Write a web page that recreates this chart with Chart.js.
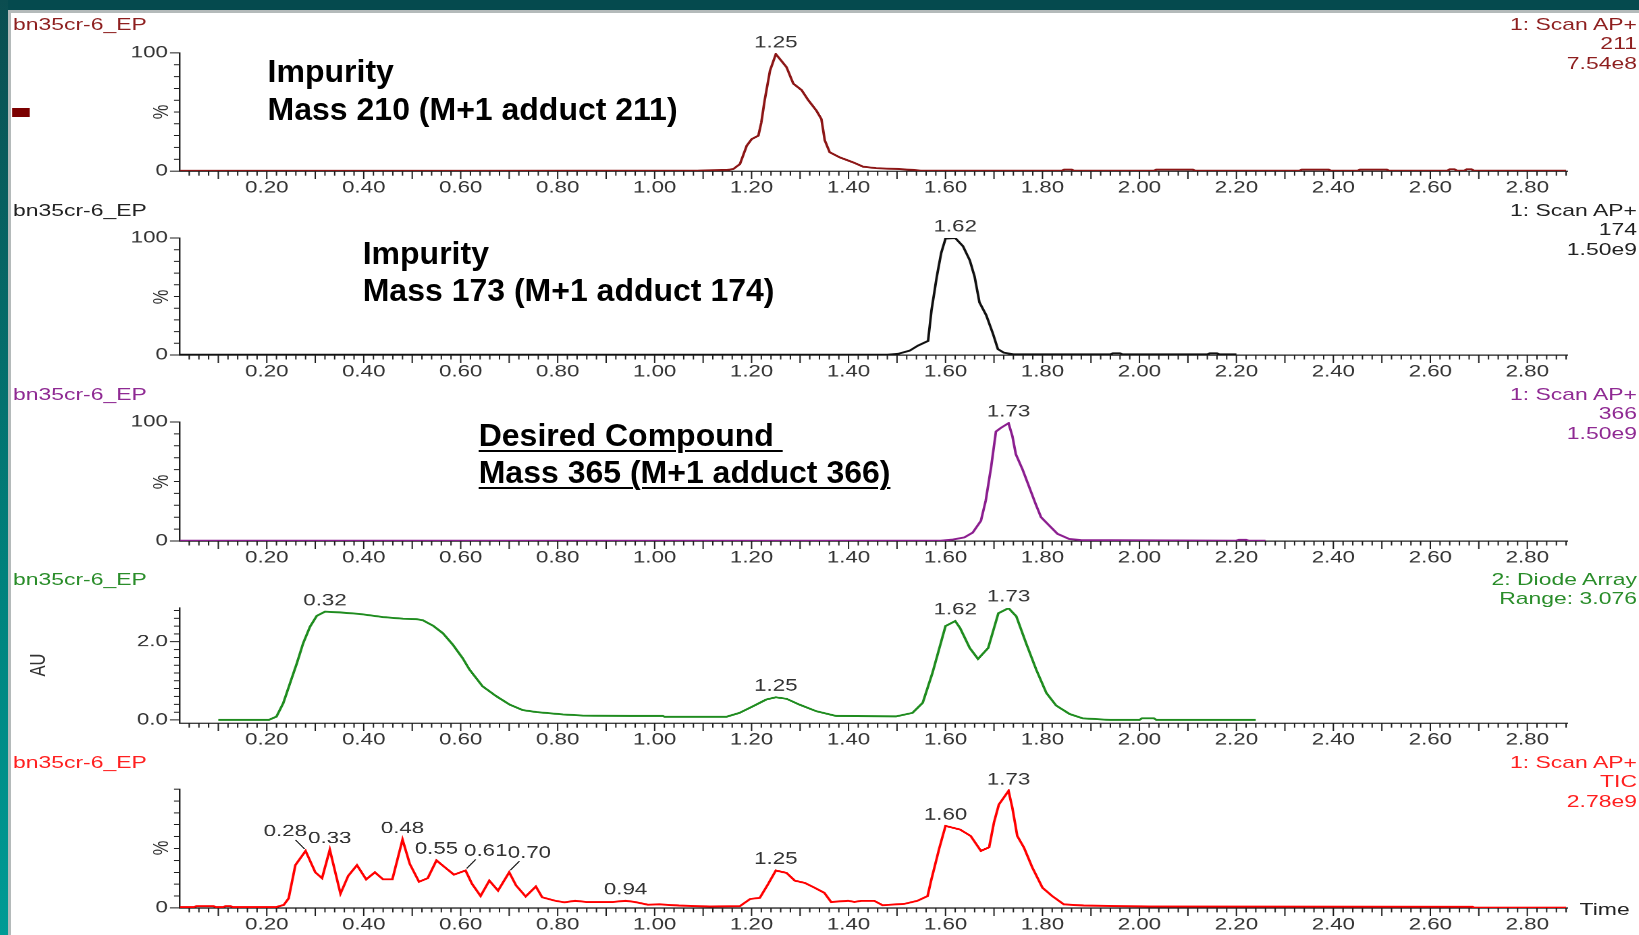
<!DOCTYPE html>
<html>
<head>
<meta charset="utf-8">
<title>bn35cr-6_EP chromatograms</title>
<script src="https://cdn.jsdelivr.net/npm/chart.js@4.4.1/dist/chart.umd.min.js"></script>
<style>
  html, body { margin: 0; padding: 0; background: #fff; }
  body { width: 1639px; height: 935px; position: relative; overflow: hidden; font-family: 'Liberation Sans', Arial, sans-serif; }
  .bar-top { position: absolute; left: 0; top: 0; width: 1639px; height: 10px; background: #054a4e; }
  .rule-top { position: absolute; left: 0; top: 10px; width: 1639px; height: 2.5px; background: #b4baba; }
  .bar-left { position: absolute; left: 0; top: 0; width: 8px; height: 935px; background: linear-gradient(#0b4d50, #00807b 60%, #009b95); }
  .rule-left { position: absolute; left: 8px; top: 10px; width: 2.5px; height: 925px; background: #b4baba; }
  /* the whole instrument printout is drawn 1.35x wider than tall */
  #stage { position: absolute; left: 0; top: 0; width: 1214.07px; height: 935px; transform: scaleX(1.35); transform-origin: 0 0; }
  .panel { position: absolute; left: 0; width: 100%; }
  .run { position: absolute; left: 9.6px; font-size: 17px; line-height: 19.5px; white-space: nowrap; }
  .scan { position: absolute; right: 1.5px; font-size: 17px; line-height: 19.5px; text-align: right; white-space: nowrap; }
  .ylab { position: absolute; font-size: 16.5px; color: #333; transform: translate(-50%, -50%) rotate(-90deg); white-space: nowrap; }
  .marker { position: absolute; left: 9.4px; top: 107.5px; width: 12.3px; height: 9.5px; background: #7b0000; }
  .time { position: absolute; left: 1170px; top: 900px; font-size: 17px; line-height: 19.5px; color: #222; }
  .note { position: absolute; font-weight: bold; font-size: 32px; line-height: 32px; color: #000; white-space: pre; }
  .note u { text-decoration-thickness: 2px; text-underline-offset: 4px; }
</style>
</head>
<body>
<div class="bar-top"></div>
<div class="rule-top"></div>
<div class="bar-left"></div>
<div class="rule-left"></div>

<div id="stage">
  <div class="run" style="top:14.5px;color:#8e1f1f">bn35cr-6_EP</div>
  <div class="scan" style="top:14.5px;color:#8e1f1f">1: Scan AP+<br>211<br>7.54e8</div>
  <div class="marker"></div>
  <div class="ylab" style="left:119px;top:111.75px">%</div>

  <div class="run" style="top:200.5px;color:#222">bn35cr-6_EP</div>
  <div class="scan" style="top:200.5px;color:#222">1: Scan AP+<br>174<br>1.50e9</div>
  <div class="ylab" style="left:119px;top:296.5px">%</div>

  <div class="run" style="top:384.5px;color:#8f2a93">bn35cr-6_EP</div>
  <div class="scan" style="top:384.5px;color:#8f2a93">1: Scan AP+<br>366<br>1.50e9</div>
  <div class="ylab" style="left:119px;top:481.5px">%</div>

  <div class="run" style="top:569.5px;color:#2a8d2a">bn35cr-6_EP</div>
  <div class="scan" style="top:569.5px;color:#2a8d2a">2: Diode Array<br>Range: 3.076</div>
  <div class="ylab" style="left:28px;top:665px">AU</div>

  <div class="run" style="top:752.5px;color:#ff2020">bn35cr-6_EP</div>
  <div class="scan" style="top:752.5px;color:#ff2020">1: Scan AP+<br>TIC<br>2.78e9</div>
  <div class="ylab" style="left:119px;top:848.25px">%</div>
  <div class="time">Time</div>
</div>

<div class="note" style="left:267.6px;top:54.9px">Impurity</div>
<div class="note" style="left:267.6px;top:92.9px">Mass 210 (M+1 adduct 211)</div>
<div class="note" style="left:362.7px;top:236.9px">Impurity</div>
<div class="note" style="left:362.7px;top:274.4px">Mass 173 (M+1 adduct 174)</div>
<div class="note" style="left:478.7px;top:418.9px"><u>Desired Compound </u></div>
<div class="note" style="left:478.7px;top:456.4px"><u>Mass 365 (M+1 adduct 366)</u></div>

<script>
// ---- data: retention time (min) and response ----
const mass211Time = [
  0.02, 0.60, 1.09, 1.15, 1.162, 1.176, 1.19, 1.20, 1.214, 1.22,
  1.227, 1.238, 1.25, 1.258, 1.272, 1.286, 1.303, 1.317, 1.334, 1.344,
  1.351, 1.361, 1.382, 1.41, 1.43, 1.457, 1.50, 1.533, 1.55, 1.84,
  1.845, 1.86, 1.865, 2.03, 2.035, 2.11, 2.115, 2.33, 2.335, 2.39,
  2.395, 2.45, 2.455, 2.51, 2.515, 2.635, 2.64, 2.65, 2.655, 2.67,
  2.675, 2.685, 2.69, 2.88
];
const mass211Pct = [
  0.3, 0.3, 0.5, 1.0, 1.7, 6, 21.5, 27, 30, 41,
  60, 85, 99, 95, 88, 74, 68.6, 60, 51, 44,
  26, 16, 11.6, 7.3, 3.7, 2.5, 1.8, 1.0, 0.4, 0.4,
  1.3, 1.3, 0.4, 0.4, 1.3, 1.3, 0.4, 0.4, 1.3, 1.3,
  0.4, 0.4, 1.3, 1.3, 0.4, 0.4, 1.5, 1.5, 0.4, 0.4,
  1.5, 1.5, 0.4, 0.4
];
const mass211Peaks = [1.25];

const mass174Time = [
  0.02, 1.48, 1.502, 1.526, 1.543, 1.564, 1.571, 1.582, 1.591, 1.60,
  1.62, 1.636, 1.65, 1.66, 1.67, 1.684, 1.698, 1.708, 1.72, 1.74,
  1.94, 1.945, 1.96, 1.965, 2.14, 2.145, 2.16, 2.165, 2.20
];
const mass174Pct = [
  0.3, 0.3, 1.0, 3.7, 8, 12, 38, 67, 87, 99.5,
  100, 93, 81, 67, 45, 34, 18, 5, 2, 0.6,
  0.6, 1.4, 1.4, 0.6, 0.6, 1.4, 1.4, 0.6, 0.6
];
const mass174Peaks = [1.62];

const mass366Time = [
  0.02, 1.59, 1.615, 1.639, 1.656, 1.673, 1.683, 1.694, 1.704, 1.714,
  1.73, 1.738, 1.745, 1.759, 1.773, 1.786, 1.797, 1.814, 1.831, 1.855,
  1.879, 2.20, 2.205, 2.22, 2.225, 2.26
];
const mass366Pct = [
  0.3, 0.3, 1.2, 3, 7, 17, 34, 62, 92, 95,
  99, 88, 73, 60, 45, 31, 20, 13, 6, 1.7,
  0.8, 0.3, 1.0, 1.0, 0.3, 0.3
];
const mass366Peaks = [1.73];

const diodeTime = [
  0.10, 0.204, 0.22, 0.234, 0.248, 0.262, 0.275, 0.289, 0.303, 0.32,
  0.351, 0.392, 0.44, 0.481, 0.508, 0.522, 0.543, 0.563, 0.584, 0.604,
  0.618, 0.645, 0.673, 0.701, 0.728, 0.756, 0.811, 0.852, 0.95, 1.017,
  1.021, 1.148, 1.175, 1.203, 1.23, 1.25, 1.272, 1.299, 1.334, 1.375,
  1.498, 1.532, 1.553, 1.573, 1.60, 1.62, 1.63, 1.65, 1.667, 1.688,
  1.709, 1.73, 1.746, 1.766, 1.787, 1.808, 1.828, 1.856, 1.883, 1.94,
  2.0, 2.005, 2.03, 2.035, 2.24
];
const diodeAU = [
  0.0, 0.0, 0.085, 0.43, 0.94, 1.45, 1.96, 2.38, 2.66, 2.77,
  2.75, 2.71, 2.63, 2.59, 2.58, 2.55, 2.41, 2.22, 1.92, 1.58,
  1.29, 0.86, 0.61, 0.39, 0.25, 0.20, 0.14, 0.11, 0.10, 0.10,
  0.08, 0.08, 0.18, 0.35, 0.52, 0.58, 0.54, 0.39, 0.22, 0.10,
  0.09, 0.18, 0.44, 1.20, 2.40, 2.53, 2.35, 1.84, 1.56, 1.84,
  2.73, 2.86, 2.65, 1.97, 1.29, 0.69, 0.37, 0.15, 0.04, 0.0,
  0.0, 0.04, 0.04, 0.0, 0.0
];
const diodePeaks = [0.32, 1.25, 1.62, 1.73];

const ticTime = [
  0.02, 0.05, 0.055, 0.09, 0.095, 0.11, 0.115, 0.125, 0.13, 0.22,
  0.235, 0.245, 0.259, 0.28, 0.30, 0.314, 0.33, 0.352, 0.368, 0.386,
  0.405, 0.423, 0.44, 0.459, 0.48, 0.495, 0.514, 0.532, 0.55, 0.568,
  0.586, 0.61, 0.623, 0.641, 0.659, 0.677, 0.70, 0.714, 0.734, 0.755,
  0.768, 0.795, 0.814, 0.836, 0.859, 0.914, 0.94, 0.959, 0.986, 1.01,
  1.05, 1.114, 1.176, 1.197, 1.217, 1.234, 1.25, 1.272, 1.289, 1.31,
  1.33, 1.35, 1.364, 1.399, 1.412, 1.426, 1.453, 1.47, 1.515, 1.542,
  1.563, 1.57, 1.587, 1.60, 1.63, 1.652, 1.673, 1.69, 1.70, 1.71,
  1.73, 1.738, 1.748, 1.762, 1.779, 1.80, 1.82, 1.844, 1.885, 2.02,
  2.687, 2.69, 2.88
];
const ticPct = [
  0.8, 0.8, 1.5, 1.5, 0.8, 0.8, 1.5, 1.5, 0.8, 0.8,
  2.5, 8, 36, 48, 30, 25, 49, 12, 27, 36,
  24, 30, 24, 24, 57.5, 37, 22, 25, 40, 34,
  28, 31.5, 20.5, 10, 23, 14.5, 30, 19, 9.6, 18,
  9, 6, 4.7, 6, 5, 5, 6, 5, 2.7, 3,
  2, 1.2, 1.5, 7.5, 8.5, 20, 31.5, 29.5, 23, 21,
  17, 12.7, 5, 6, 5, 6, 6, 2.3, 3.4, 6,
  10, 22.5, 50, 69, 66, 60.5, 48, 51, 72, 87,
  98.5, 84, 60.5, 50.6, 34, 17, 10, 3, 2, 1.2,
  1.0, 0.3, 0.3
];
const ticPeaks = [0.28, 0.33, 0.48, 0.55, 0.61, 0.70, 0.94, 1.25, 1.60, 1.73];

// tick labels
const timeLabels = [0.2, 0.4, 0.6, 0.8, 1.0, 1.2, 1.4, 1.6, 1.8, 2.0, 2.2, 2.4, 2.6, 2.8];
const pctAxisLabels = [0, 100];
const ticAxisLabels = [0];
const auAxisLabels = [0, 2];

// ---- layout (stage units: x is divided by the 1.35 stretch) ----
const STAGE_W = 1214.07;
const AREA_LEFT = 133.33;
const AREA_RIGHT = 1160.74;
const PAD_TOP = 26;
const AXIS_H = 30;
const X_MIN = 0.021, X_MAX = 2.882;
const FONT = { family: "'Liberation Sans', Arial, sans-serif", size: 16.5 };
const TEXT = '#333';
const AXIS = '#1e1e1e';

const near = (a, b) => Math.abs(a - b) < 1e-6;
const onStep = (v, step) => Math.abs(v / step - Math.round(v / step)) < 1e-6;

const xTickValues = [];
for (let i = 2; i <= 144; i++) xTickValues.push(Math.round(i * 2) / 100);

// short/long tick marks along both axes
const tickMarks = {
  id: 'tickMarks',
  beforeDatasetsDraw(chart, args, opts) {
    const { ctx, scales: { x, y } } = chart;
    ctx.save();
    ctx.strokeStyle = AXIS;
    ctx.lineWidth = 1;
    ctx.beginPath();
    x.ticks.forEach(t => {
      const px = x.getPixelForValue(t.value);
      const len = onStep(t.value, 0.1) ? 8 : 4.5;
      ctx.moveTo(px, x.top);
      ctx.lineTo(px, x.top + len);
    });
    y.ticks.forEach(t => {
      const py = y.getPixelForValue(t.value);
      const len = opts.long.some(v => near(v, t.value)) ? 7.4 : 4.4;
      ctx.moveTo(y.right - len, py);
      ctx.lineTo(y.right, py);
    });
    ctx.stroke();
    ctx.restore();
  }
};

// retention time written over each picked peak
const peakLabels = {
  id: 'peakLabels',
  afterDatasetsDraw(chart, args, opts) {
    const { ctx, scales: { x, y } } = chart;
    const pts = chart.data.datasets[0].data;
    ctx.save();
    ctx.font = `${FONT.size}px ${FONT.family}`;
    ctx.fillStyle = TEXT;
    ctx.strokeStyle = AXIS;
    ctx.lineWidth = 1;
    ctx.textAlign = 'center';
    ctx.textBaseline = 'middle';
    opts.peaks.forEach(p => {
      const pt = pts.reduce((best, d) => Math.abs(d.x - p) < Math.abs(best.x - p) ? d : best);
      const px = x.getPixelForValue(pt.x);
      const py = y.getPixelForValue(pt.y);
      const text = p.toFixed(2);
      const dir = (opts.leaders || {})[text];
      if (!dir) {
        ctx.fillText(text, px, py - 11);
      } else {
        ctx.fillText(text, px + dir * 15, py - 19);
        ctx.beginPath();
        ctx.moveTo(px + dir * 7.5, py - 11);
        ctx.lineTo(px + dir * 0.8, py - 2);
        ctx.stroke();
      }
    });
    ctx.restore();
  }
};

const panels = [
  { top: 52.5, bottom: 171, times: mass211Time, values: mass211Pct, peaks: mass211Peaks,
    color: '#8c1616', yMin: 0, yMax: 100, yStep: 10, yLabels: pctAxisLabels, fmt: v => String(v) },
  { top: 238, bottom: 355, times: mass174Time, values: mass174Pct, peaks: mass174Peaks,
    color: '#111', yMin: 0, yMax: 100, yStep: 10, yLabels: pctAxisLabels, fmt: v => String(v) },
  { top: 422, bottom: 541, times: mass366Time, values: mass366Pct, peaks: mass366Peaks,
    color: '#8b1e8f', yMin: 0, yMax: 100, yStep: 10, yLabels: pctAxisLabels, fmt: v => String(v) },
  { top: 607.7, bottom: 723.2, times: diodeTime, values: diodeAU, peaks: diodePeaks,
    color: '#1f8c1f', yMin: -0.082, yMax: 2.865, yStep: 0.2, yLabels: auAxisLabels, fmt: v => v.toFixed(1) },
  { top: 789, bottom: 907.5, times: ticTime, values: ticPct, peaks: ticPeaks,
    leaders: { '0.28': -1, '0.61': 1, '0.70': 1 },
    color: '#ff0000', yMin: 0, yMax: 100, yStep: 10, yLabels: ticAxisLabels, fmt: v => String(v) }
];

const stage = document.getElementById('stage');

panels.forEach(p => {
  const box = document.createElement('div');
  box.className = 'panel';
  box.style.top = (p.top - PAD_TOP) + 'px';
  box.style.height = (p.bottom - p.top + PAD_TOP + AXIS_H) + 'px';
  const canvas = document.createElement('canvas');
  box.appendChild(canvas);
  stage.appendChild(box);

  const yTickValues = [];
  for (let v = 0; v <= p.yMax + 1e-9; v += p.yStep) yTickValues.push(Math.round(v * 100) / 100);

  new Chart(canvas, {
    type: 'line',
    data: {
      datasets: [{
        data: p.times.map((t, i) => ({ x: t, y: p.values[i] })),
        borderColor: p.color,
        borderWidth: 1.9,
        pointRadius: 0,
        tension: 0,
        fill: false
      }]
    },
    options: {
      animation: false,
      responsive: true,
      maintainAspectRatio: false,
      devicePixelRatio: 2,
      events: [],
      layout: { padding: { top: PAD_TOP, right: STAGE_W - AREA_RIGHT, left: 0, bottom: 0 } },
      plugins: {
        legend: { display: false },
        tooltip: { enabled: false },
        tickMarks: { long: p.yLabels },
        peakLabels: { peaks: p.peaks, leaders: p.leaders }
      },
      scales: {
        x: {
          type: 'linear',
          min: X_MIN,
          max: X_MAX,
          bounds: 'data',
          afterBuildTicks: s => { s.ticks = xTickValues.map(v => ({ value: v })); },
          afterFit: s => { s.height = AXIS_H; },
          grid: { display: false, drawTicks: false },
          border: { display: true, color: AXIS, width: 1.3 },
          ticks: {
            autoSkip: false,
            maxRotation: 0,
            padding: 7,
            color: TEXT,
            font: FONT,
            callback: v => timeLabels.some(l => near(l, v)) ? v.toFixed(2) : ''
          }
        },
        y: {
          type: 'linear',
          min: p.yMin,
          max: p.yMax,
          bounds: 'data',
          afterBuildTicks: s => { s.ticks = yTickValues.map(v => ({ value: v })); },
          afterFit: s => { s.width = AREA_LEFT; },
          grid: { display: false, drawTicks: false },
          border: { display: true, color: AXIS, width: 1.2 },
          ticks: {
            autoSkip: false,
            padding: 9,
            color: TEXT,
            font: FONT,
            callback: v => p.yLabels.some(l => near(l, v)) ? p.fmt(v) : ''
          }
        }
      }
    },
    plugins: [tickMarks, peakLabels]
  });
});
</script>
</body>
</html>
